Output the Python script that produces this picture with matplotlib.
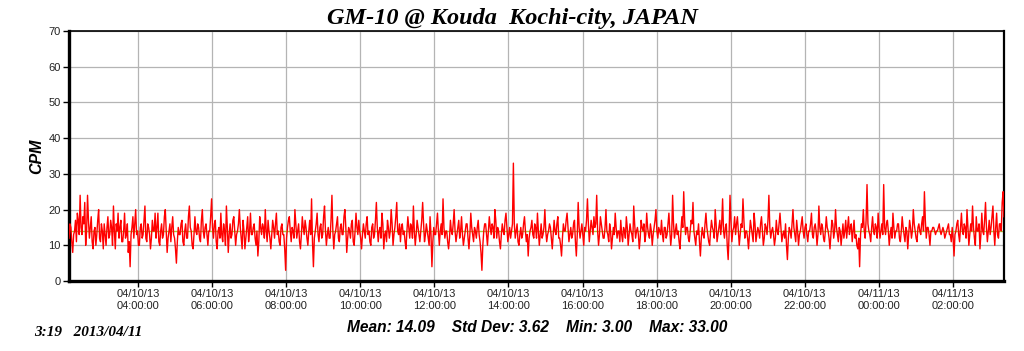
import matplotlib
matplotlib.use("Agg")
from matplotlib import pyplot as plt
import matplotlib.dates as mdates
import pandas as pd

# CPM readings, one every 90 s starting 04/10/13 02:08 (40 per hour)
cpm = [12,16, 15,11, 8,13, 14,17, 11,19, 17,13, 24,15, 13,18, 16,22, 10,14, 24,17, 12,15, 18,11, 9,14, 15,10, 13,17, 20,12, 11,16, 14,9, 16,13,
       10,15, 18,12, 13,17, 15,10, 21,14, 9,16, 14,19, 12,15, 17,11, 11,14, 19,12, 13,16, 8,11, 4,13, 15,18, 12,16, 20,13, 14,10, 10,15, 16,12,
       13,17, 21,12, 11,16, 15,13, 9,12, 17,14, 14,19, 12,15, 19,11, 10,14, 16,12, 13,18, 20,14, 8,12, 14,16, 11,15, 18,13, 12,9, 5,11, 15,13,
       13,16, 17,11, 10,14, 16,12, 12,18, 21,15, 14,10, 9,13, 18,14, 13,16, 15,12, 11,17, 20,14, 12,15, 16,13, 10,14, 14,18, 23,15, 12,16, 17,11,
       9,14, 15,12, 19,13, 11,16, 14,10, 21,15, 8,13, 16,12, 13,17, 18,14, 10,13, 14,16, 20,15, 12,9, 17,14, 9,12, 15,18, 11,14, 19,13, 13,15,
       16,12, 10,14, 7,11, 18,15, 13,16, 15,12, 20,14, 11,17, 14,12, 9,13, 17,15, 12,16, 19,13, 14,11, 10,15, 16,13, 13,9, 3,12, 15,17, 18,14,
       11,15, 14,12, 20,16, 12,14, 16,11, 9,13, 18,15, 13,17, 15,12, 10,14, 17,13, 23,11, 4,12, 14,16, 19,13, 11,15, 16,12, 13,18, 21,14, 10,13,
       15,12, 12,17, 24,14, 9,13, 14,16, 18,12, 11,15, 16,13, 13,18, 20,15, 8,12, 15,14, 12,16, 17,11, 10,14, 19,15, 13,17, 14,12, 9,13, 16,14,
       12,16, 18,13, 14,11, 10,15, 16,12, 13,17, 22,15, 11,14, 15,12, 19,16, 9,13, 14,11, 17,15, 12,14, 20,16, 10,13, 15,18, 22,14, 13,16, 11,15,
       16,13, 14,11, 9,14, 18,15, 12,16, 15,12, 21,14, 10,13, 17,15, 13,11, 14,17, 22,16, 11,13, 16,14, 12,10, 18,13, 4,11, 15,13, 13,16, 19,14,
       10,14, 16,13, 23,15, 12,14, 14,11, 9,12, 17,14, 13,16, 20,14, 11,13, 15,17, 12,14, 18,13, 10,12, 14,16, 16,12, 9,13, 19,15, 13,11, 15,14,
       12,15, 17,13, 11,8, 3,10, 14,16, 16,13, 10,14, 18,15, 13,16, 15,12, 20,17, 12,15, 14,11, 9,13, 16,14, 13,17, 19,15, 11,13, 15,12, 14,16,
       33,16, 12,14, 16,11, 10,13, 15,12, 13,16, 18,14, 11,13, 7,12, 14,15, 17,13, 12,16, 15,12, 19,14, 10,13, 16,12, 13,15, 20,14, 11,13, 14,16,
       15,12, 9,13, 17,14, 13,16, 18,12, 12,10, 7,12, 16,14, 14,17, 19,15, 11,13, 15,12, 13,16, 17,11, 7,13, 22,15, 12,14, 16,13, 10,15, 14,17,
       23,16, 11,14, 17,15, 13,18, 15,16, 24,14, 10,13, 18,16, 14,12, 12,15, 20,14, 13,11, 16,14, 9,12, 15,13, 19,15, 12,14, 14,11, 17,13, 11,15,
       14,12, 18,15, 10,13, 16,14, 13,11, 21,16, 12,14, 15,13, 9,12, 17,15, 14,16, 11,13, 19,15, 13,12, 16,14, 10,13, 15,17, 20,14, 12,15, 14,13,
       17,13, 11,15, 15,12, 13,16, 19,14, 10,13, 24,16, 12,14, 16,13, 14,11, 9,14, 18,15, 25,17, 13,15, 15,12, 11,14, 17,16, 22,14, 12,10, 14,13,
       16,11, 7,12, 15,13, 12,16, 19,15, 13,11, 10,14, 17,15, 14,12, 20,16, 11,13, 15,17, 13,16, 23,14, 12,15, 16,10, 6,13, 24,17, 11,14, 15,18,
       13,16, 18,14, 10,13, 16,15, 23,17, 12,14, 14,12, 9,13, 17,15, 13,11, 19,16, 11,13, 15,14, 12,16, 18,14, 10,12, 16,15, 13,17, 24,15, 12,14,
       15,13, 10,12, 17,14, 13,16, 19,15, 11,13, 14,12, 16,10, 6,12, 15,14, 12,16, 20,15, 13,11, 17,14, 10,13, 14,16, 18,14, 12,15, 16,13, 11,14,
       14,16, 19,13, 12,15, 16,14, 10,13, 21,15, 13,16, 15,12, 11,14, 18,15, 14,12, 9,13, 17,16, 12,14, 20,15, 13,11, 15,14, 10,13, 16,12, 14,17,
       12,15, 18,13, 15,16, 11,14, 17,12, 13,10, 9,12, 4,13, 16,15, 20,14, 12,17, 27,16, 14,13, 11,15, 18,14, 13,16, 15,12, 19,15, 12,14, 16,13,
       27,15, 13,16, 17,14, 10,13, 15,12, 19,15, 12,14, 14,16, 16,12, 11,14, 18,15, 13,11, 15,14, 9,13, 17,15, 12,14, 20,16, 14,12, 11,15, 16,14,
       13,16, 18,14, 25,17, 12,15, 15,13, 10,14, 14,15, 15,14, 13,14, 14,15, 16,14, 13,14, 15,14, 12,13, 14,15, 16,13, 13,11, 15,12, 7,13, 14,16,
       17,13, 11,15, 19,14, 13,16, 15,12, 20,15, 10,13, 16,14, 21,15, 12,10, 18,14, 14,16, 9,13, 19,14, 13,17, 22,15, 11,14, 17,13, 15,18, 21,14,
       10,15, 19,13, 12,16, 16,14, 22,25, 18]
times = pd.date_range("2013-04-10 02:08", periods=len(cpm), freq="90s")

mean_cpm = 14.09
stats_text = "Mean: 14.09    Std Dev: 3.62    Min: 3.00    Max: 33.00"
title = "GM-10 @ Kouda  Kochi-city, JAPAN"
stamp = "3:19   2013/04/11"

fig = plt.figure(figsize=(10.24, 3.51), dpi=100)
ax = fig.add_axes([0.0674, 0.1994, 0.9131, 0.7123])

ax.plot(times, cpm, color="#ff0000", lw=1.0, zorder=3)
ax.axhline(mean_cpm, color="#a8c83c", lw=1.0, zorder=2)

ax.set_ylim(0, 70)
ax.set_yticks(range(0, 71, 10))
ax.set_xlim(pd.Timestamp("2013-04-10 02:08"), pd.Timestamp("2013-04-11 03:23"))
ax.xaxis.set_major_locator(mdates.HourLocator(byhour=range(0, 24, 2)))
ax.xaxis.set_major_formatter(mdates.DateFormatter("%m/%d/%y\n%H:%M:%S"))

ax.grid(True, color="#b4b4b4", lw=0.9)
ax.set_axisbelow(True)
ax.tick_params(labelsize=8, length=4, width=1, colors="black", labelcolor="#222222", pad=2)
for lab in ax.get_xticklabels() + ax.get_yticklabels():
    lab.set_family("Liberation Sans")

ax.spines["left"].set_linewidth(2.4)
ax.spines["bottom"].set_linewidth(2.4)
ax.spines["top"].set_linewidth(1.2)
ax.spines["right"].set_linewidth(1.6)

ax.set_ylabel("CPM", family="Liberation Sans", fontsize=11.5, fontweight="bold",
              style="italic", labelpad=3)

fig.text(0.5, 0.946, title, ha="center", va="center", family="Liberation Serif",
         fontsize=17.5, fontweight="bold", style="italic")
fig.text(0.525, 0.068, stats_text, ha="center", va="center", family="Liberation Sans",
         fontsize=11.2, fontweight="bold", style="italic")
fig.text(0.033, 0.053, stamp, ha="left", va="center", family="Liberation Serif",
         fontsize=11, fontweight="bold", style="italic")

plt.savefig("out.png", dpi=100)
